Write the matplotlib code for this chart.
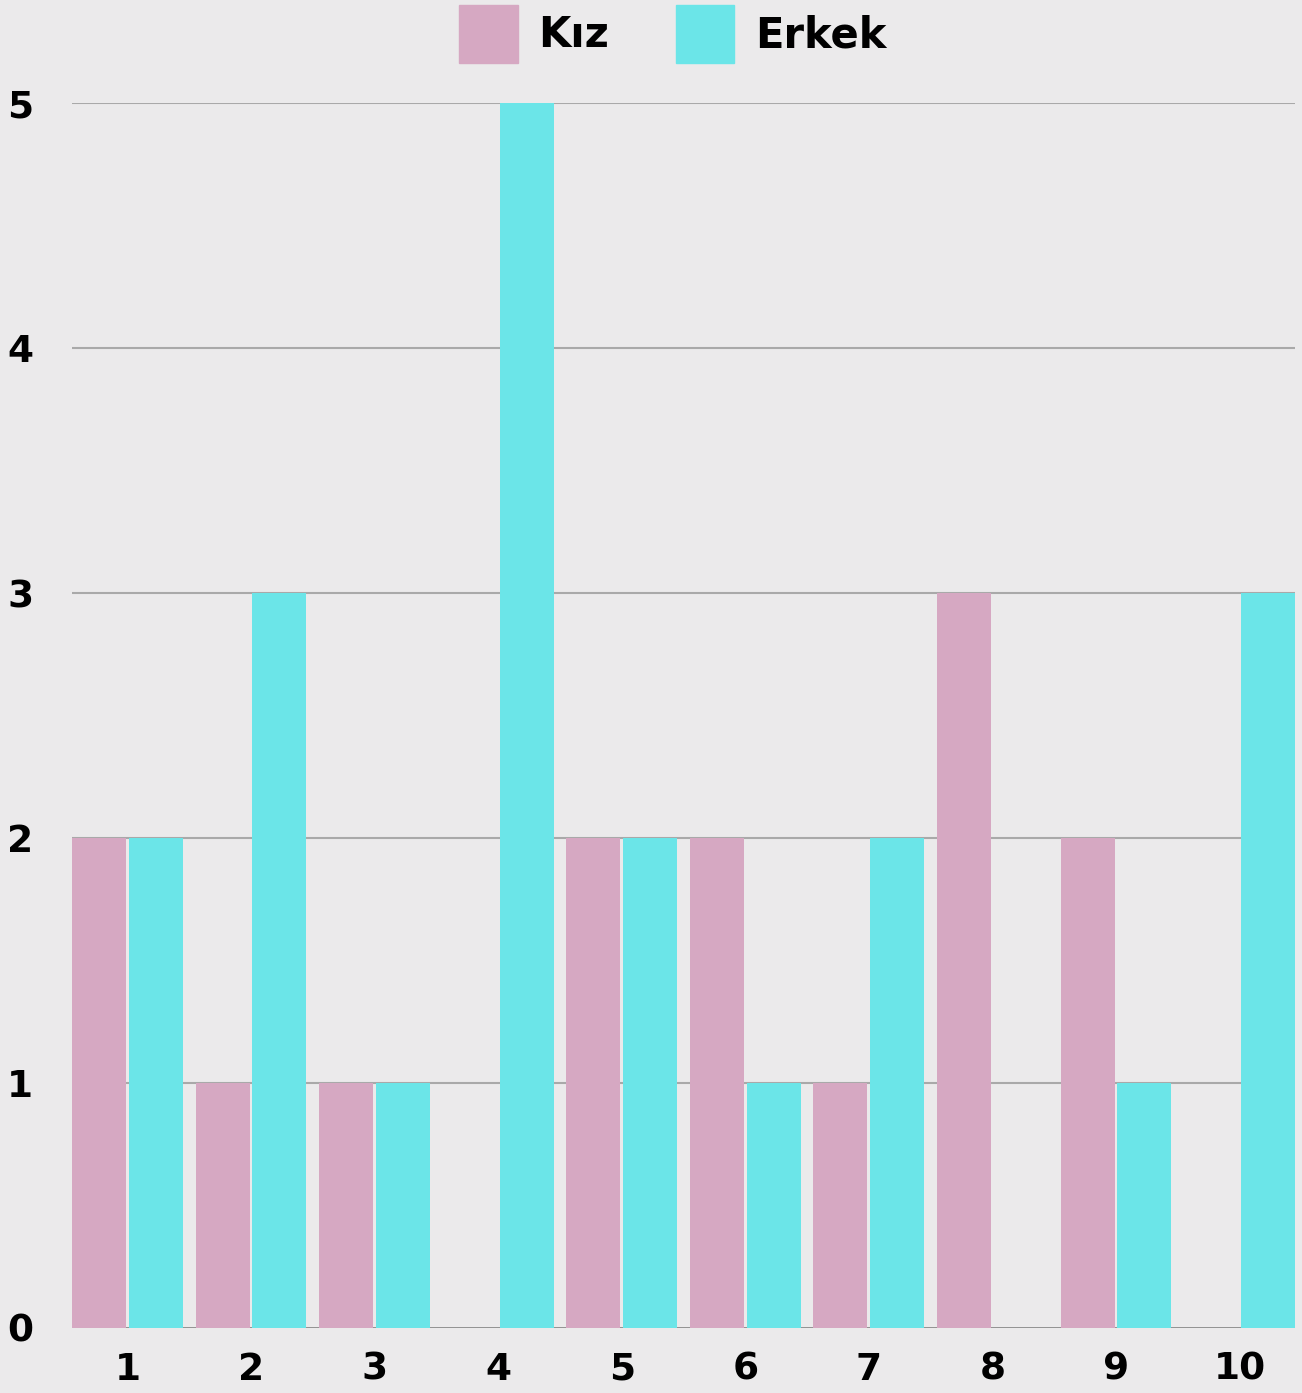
import numpy as np
import matplotlib.pyplot as plt
from matplotlib.patches import Patch

# Data
groups = ['1', '2', '3', '4', '5', '6', '7', '8', '9', '10']
kiz = [2, 1, 1, 0, 2, 2, 1, 3, 2, 0]
erkek = [2, 3, 1, 5, 2, 1, 2, 0, 1, 3]
yticks = [0, 1, 2, 3, 4, 5]

pink = '#d6a8c2'
cyan = '#6be5e8'
bg = '#ebeaeb'

fig = plt.figure(figsize=(13.02, 13.93), dpi=100, facecolor=bg)
ax = fig.add_axes([72/1302, 1 - 1328/1393, (1295 - 72)/1302, (1328 - 103)/1393])
ax.set_facecolor(bg)

x = np.arange(len(groups))
w = 0.437          # bar width
off = 0.2305       # half distance between bar centres

ax.bar(x - off, kiz, width=w, color=pink, zorder=3)
ax.bar(x + off, erkek, width=w, color=cyan, zorder=3)

ax.set_xlim(x[0] - 0.4487, x[-1] + 0.4487)
ax.set_ylim(0, 5)

# grid lines
for y in yticks[1:]:
    ax.axhline(y, color='#a9a9a9', lw=1.5, zorder=1)
ax.axhline(0, color='#8a8a8a', lw=2, zorder=2)

for s in ax.spines.values():
    s.set_visible(False)

ax.set_xticks(x)
ax.set_xticklabels(groups)
ax.set_yticks(yticks)
ax.tick_params(length=0, labelsize=27)
ax.tick_params(axis='x', pad=17)
ax.tick_params(axis='y', pad=28)
for lab in ax.get_xticklabels() + ax.get_yticklabels():
    lab.set_fontweight('bold')

handles = [Patch(color=pink, label='Kız'), Patch(color=cyan, label='Erkek')]
fig.legend(handles=handles, loc='center', bbox_to_anchor=(673/1302, 1 - 34/1393),
           ncol=2, frameon=False, prop={'size': 30, 'weight': 'bold'},
           handlelength=1.4, handleheight=1.75, handletextpad=0.5, columnspacing=1.6)

fig.savefig('out.png', dpi=100, facecolor=bg)
